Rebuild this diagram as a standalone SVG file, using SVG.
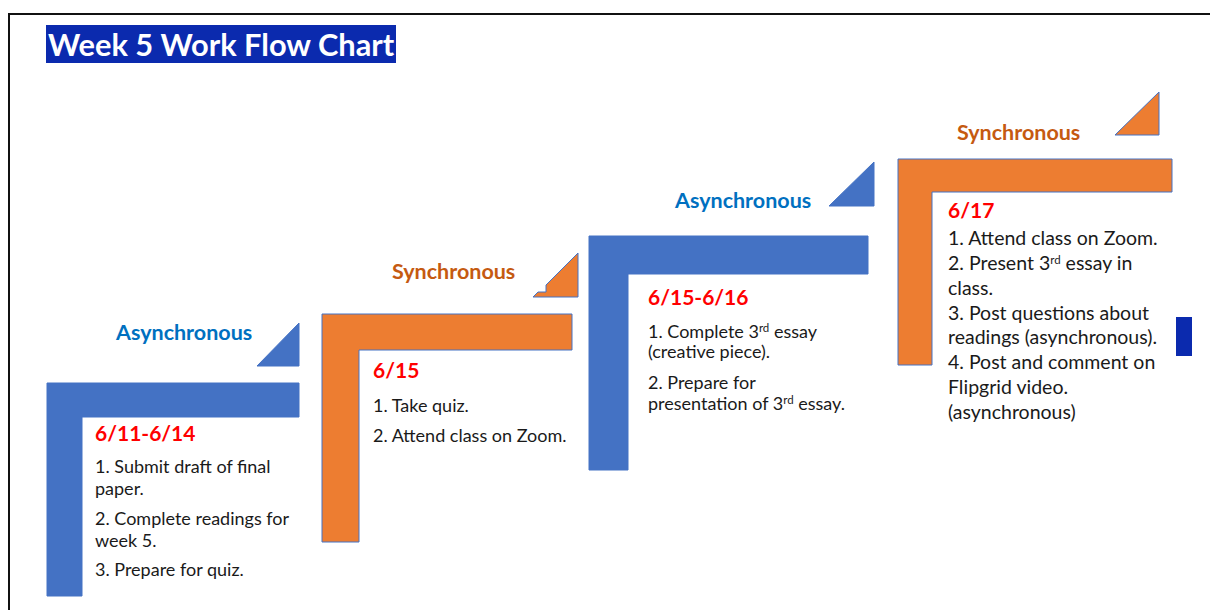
<svg xmlns="http://www.w3.org/2000/svg" width="1210" height="610" viewBox="0 0 1210 610">
<style>
.bl{fill:#4472C4;stroke:#4472C4;stroke-width:1}
.or{fill:#ED7D31;stroke:#4472C4;stroke-width:1}
.lab{font-family:Lato,"Liberation Sans",sans-serif;font-weight:bold;font-size:21.5px}
.as{fill:#0070C0}
.sy{fill:#C55A11}
.date{font-family:Lato,"Liberation Sans",sans-serif;font-weight:bold;font-size:21px;fill:#FF0000}
.tx{font-family:Lato,"Liberation Sans",sans-serif;font-size:18px;fill:#1a1a1a}
.tx4{font-size:19.5px}
.sup{font-size:11.5px}
</style>
<rect width="1210" height="610" fill="#ffffff"/>
<path d="M9,610 V14 H1210" fill="none" stroke="#111" stroke-width="2"/>
<g id="title">
<rect x="46" y="25" width="350" height="38" fill="#0B2AAE"/>
<text x="48" y="56" font-family="Lato,'Liberation Sans',sans-serif" font-weight="bold" font-size="30.8" fill="#ffffff">Week 5 Work Flow Chart</text>
</g>
<g id="connectors"></g>
<g id="step1">
<polygon class="bl" points="257,366 299,323 299,366"/>
<text class="lab as" x="116" y="340">Asynchronous</text>
<polygon class="bl" points="47,383 299,383 299,417 82,417 82,596 47,596"/>
<text class="date" x="95" y="441">6/11-6/14</text>
<text class="tx" x="95" y="473">1. Submit draft of final</text>
<text class="tx" x="95" y="495">paper.</text>
<text class="tx" x="95" y="525">2. Complete readings for</text>
<text class="tx" x="95" y="547">week 5.</text>
<text class="tx" x="95" y="576">3. Prepare for quiz.</text>
</g>
<g id="step2">
<polygon class="or" points="533,297 578,297 578,253 546,285 546,292 538,292"/>
<text class="lab sy" x="392" y="279">Synchronous</text>
<polygon class="or" points="322,314 572,314 572,350 359,350 359,542 322,542"/>
<text class="date" x="373" y="378">6/15</text>
<text class="tx" x="373" y="412">1. Take quiz.</text>
<text class="tx" x="373" y="442">2. Attend class on Zoom.</text>
</g>
<g id="step3">
<polygon class="bl" points="829,206 874,162 874,206"/>
<text class="lab as" x="675" y="208">Asynchronous</text>
<polygon class="bl" points="589,236 868,236 868,274 628,274 628,470 589,470"/>
<text class="date" x="648" y="305">6/15-6/16</text>
<text class="tx" x="648" y="338">1. Complete 3<tspan class="sup" dy="-6">rd</tspan><tspan dy="6"> essay</tspan></text>
<text class="tx" x="648" y="358">(creative piece).</text>
<text class="tx" x="648" y="389">2. Prepare for</text>
<text class="tx" x="648" y="410">presentation of 3<tspan class="sup" dy="-6">rd</tspan><tspan dy="6"> essay.</tspan></text>
</g>
<g id="step4">
<polygon class="or" points="1115,135 1159,92 1159,135"/>
<text class="lab sy" x="957" y="140">Synchronous</text>
<polygon class="or" points="898,159 1172,159 1172,192 932,192 932,365 898,365"/>
<text class="date" x="948" y="218">6/17</text>
<text class="tx tx4" x="948" y="245">1. Attend class on Zoom.</text>
<text class="tx tx4" x="948" y="270">2. Present 3<tspan class="sup" dy="-6">rd</tspan><tspan dy="6"> essay in</tspan></text>
<text class="tx tx4" x="948" y="295">class.</text>
<text class="tx tx4" x="948" y="320">3. Post questions about</text>
<text class="tx tx4" x="948" y="344">readings (asynchronous).</text>
<text class="tx tx4" x="948" y="369">4. Post and comment on</text>
<text class="tx tx4" x="948" y="394">Flipgrid video.</text>
<text class="tx tx4" x="948" y="419">(asynchronous)</text>
</g>
<rect id="marker" x="1176" y="317" width="16" height="39" fill="#0B2AAE"/>
</svg>
